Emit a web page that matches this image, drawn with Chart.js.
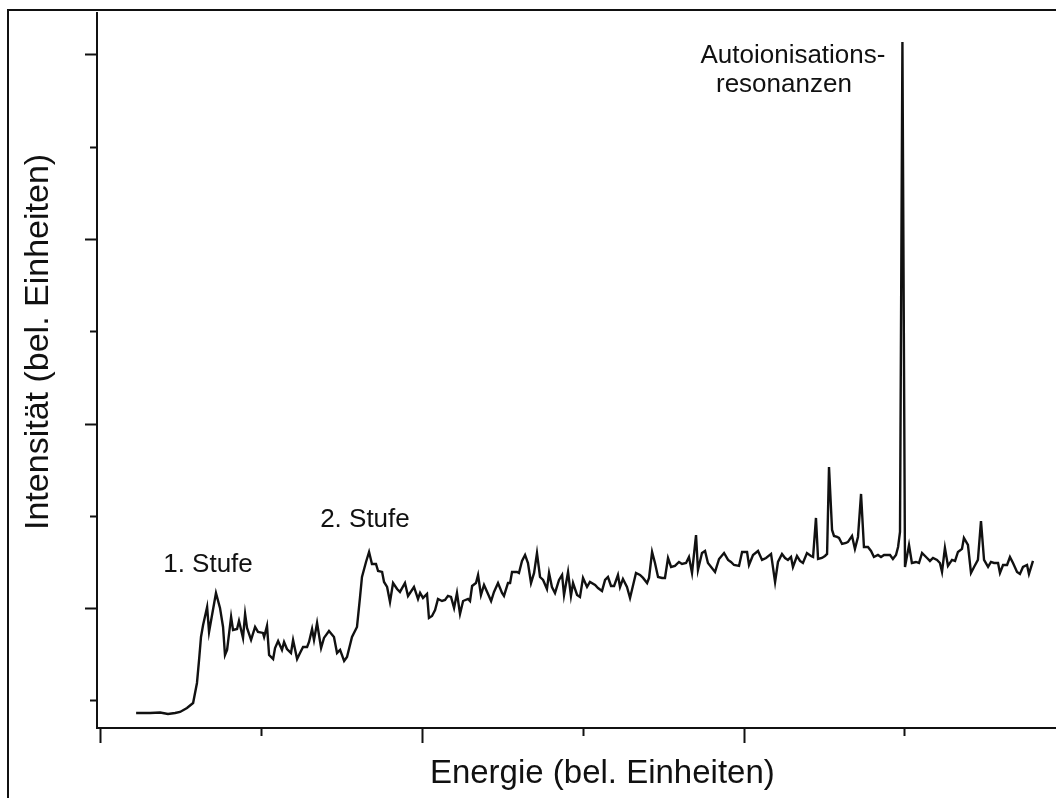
<!DOCTYPE html>
<html lang="de">
<head>
<meta charset="UTF-8">
<title>Intensität über Energie</title>
<script src="https://cdn.jsdelivr.net/npm/chart.js"></script>
<style>
  html, body { margin: 0; padding: 0; background: #fff; overflow: hidden; }
  #wrap { position: relative; width: 1056px; height: 798px; }
  #rahmen { position: absolute; left: 7px; top: 9px; width: 1100px; height: 900px;
            border-left: 2px solid #111; border-top: 2px solid #111; pointer-events: none; }
</style>
</head>
<body>
<div id="wrap">
  <canvas id="spektrum" width="1056" height="798"></canvas>
  <div id="rahmen"></div>
</div>
<script>
// Energie (bel. Einheiten), Messpunkte des Spektrums
const energie = [
  2.24, 3.11, 3.73, 4.22, 4.66, 4.97, 5.40, 5.78, 6.02, 6.15, 6.27, 6.40, 6.65, 6.77, 7.20, 7.45,
  7.64, 7.76, 7.89, 8.14, 8.26, 8.51, 8.63, 8.88, 9.01, 9.13, 9.38, 9.63, 9.81, 10.12, 10.19, 10.37,
  10.50, 10.75, 10.87, 11.06, 11.30, 11.43, 11.61, 11.86, 11.99, 12.24, 12.42, 12.61, 12.86, 12.98,
  13.17, 13.29, 13.48, 13.73, 13.91, 14.22, 14.53, 14.72, 14.91, 15.16, 15.34, 15.65, 15.96, 16.15,
  16.27, 16.52, 16.71, 16.89, 17.14, 17.27, 17.52, 17.64, 17.83, 18.01, 18.20, 18.45, 18.63, 18.94,
  19.13, 19.50, 19.75, 19.88, 20.06, 20.31, 20.43, 20.62, 20.81, 20.99, 21.24, 21.43, 21.61, 21.80,
  21.99, 22.17, 22.36, 22.55, 22.86, 22.98, 23.11, 23.35, 23.48, 23.66, 23.85, 24.10, 24.29, 24.47,
  24.72, 24.97, 25.09, 25.34, 25.47, 25.59, 25.90, 26.02, 26.21, 26.40, 26.58, 26.77, 26.96, 27.14,
  27.33, 27.52, 27.76, 27.89, 28.07, 28.26, 28.51, 28.70, 28.82, 29.07, 29.25, 29.38, 29.63, 29.81,
  30.00, 30.25, 30.43, 30.75,
  30.93, 31.18, 31.37, 31.55, 31.74, 31.93, 32.17, 32.30, 32.48, 32.73, 32.92, 33.29, 33.54, 33.73,
  33.98, 34.10, 34.29, 34.47, 34.66, 34.91, 35.09, 35.28, 35.47, 35.71, 35.96, 36.15, 36.40, 36.58,
  36.77, 37.02, 37.14, 37.39, 37.58, 37.76, 38.20, 38.45, 38.76, 39.01, 39.19, 39.38, 39.69, 39.88,
  40.19, 40.31, 40.56, 40.87, 41.12, 41.37, 41.68, 41.93, 42.11, 42.36, 42.55, 42.73, 42.92, 43.04,
  43.29, 43.48, 43.66, 43.91, 44.16, 44.29, 44.47,
  44.60, 44.84, 45.03, 45.16, 45.28, 45.47, 45.59, 45.78, 45.90, 46.09, 46.34, 46.46, 46.71, 46.89,
  47.08, 47.27, 47.45, 47.70, 47.89, 48.07, 48.32, 48.51, 48.70, 49.07, 49.25, 49.44, 49.57, 49.69,
  49.84, 50.00, 50.25, 50.43, 50.68, 50.87, 51.06, 51.37, 51.55, 51.74, 51.99, 52.17, 52.30, 52.48,
  52.67, 52.92, 53.11, 53.29, 53.54, 53.66, 53.91, 54.10, 54.29, 54.53, 54.72, 54.91, 55.16, 55.34,
  55.53, 55.78, 55.90, 56.09, 56.34, 56.52, 56.71, 56.96, 57.14, 57.33, 57.58, 57.70, 57.95
];

// Intensität (bel. Einheiten)
const intensitaet = [
  -1.30, -1.30, -1.25, -1.41, -1.30, -1.19, -0.76, -0.22, 1.95, 4.44, 6.93, 8.23, 10.18, 7.48, 11.70, 10.08,
  8.02, 4.98, 5.53, 9.10, 7.69, 7.80, 8.67, 6.83, 9.43, 7.91, 6.61, 8.02, 7.48, 7.37, 6.93, 8.13,
  4.98, 4.55, 5.74, 6.50, 5.53, 6.39, 5.63, 5.20, 6.61, 4.55, 5.20, 5.85, 5.85, 6.39,
  7.80, 6.61, 8.45, 5.74, 6.83, 7.58, 6.93, 5.20, 5.53, 4.33, 4.77, 6.93, 8.02, 11.27,
  13.43, 15.06, 16.14, 14.84, 14.84, 14.08, 13.98, 12.89, 12.35, 10.73, 12.78, 12.13, 11.81, 12.78,
  11.38, 12.35, 11.05, 11.70, 11.16, 11.59, 8.99, 9.21, 9.86, 11.05, 10.83, 10.94, 11.38, 11.27,
  10.08, 11.70, 9.43, 10.83, 11.05, 10.83, 12.46, 12.78, 13.65, 11.48, 12.57, 11.59, 10.83, 11.81,
  12.78, 11.70, 11.38, 12.78, 12.78, 13.98, 13.98, 13.87, 15.17, 15.82, 14.95, 12.78, 13.87, 16.03,
  13.43, 13.11, 12.13, 13.87, 12.35, 11.70, 13.11, 13.65, 11.48, 13.98, 11.38, 12.78, 11.48, 11.27,
  13.33, 12.35, 12.89, 12.57,
  12.24, 11.92, 13.11, 13.43, 12.46, 12.46, 13.65, 12.35, 13.22, 12.35, 11.16, 13.87, 13.65, 13.33,
  12.78, 13.33, 16.14, 14.95, 13.43, 13.33, 13.33, 15.49, 14.52, 14.63, 15.06, 14.84, 14.95, 15.60,
  13.87, 17.98, 14.19, 16.03, 16.25, 14.95, 13.98, 15.38, 16.03, 15.28, 15.06, 14.73, 14.63, 16.14,
  16.14, 14.73, 15.82, 16.25, 15.28, 15.49, 15.93, 12.89, 15.06, 15.93, 15.49, 15.28, 15.60, 14.52,
  15.71, 15.17, 14.95, 16.03, 15.71, 15.60, 19.83,
  15.38, 15.49, 15.71, 15.93, 25.35, 18.53, 17.88, 17.77, 17.66, 17.01, 17.12, 17.23, 17.88, 16.47,
  17.77, 22.43, 16.68, 16.68, 16.25, 15.60, 15.82, 15.60, 15.82, 15.82, 15.38, 15.82, 16.68, 18.31,
  71.40, 14.52, 16.90, 14.95, 15.06, 14.95, 16.03, 15.49, 15.17, 15.49, 15.28, 14.95, 13.98, 16.58,
  14.63, 15.28, 15.17, 16.14, 16.47, 17.66, 16.90, 13.87, 14.52, 15.28, 19.50, 15.28, 14.52, 15.06,
  14.95, 14.95, 13.87, 14.73, 14.73, 15.60, 14.95, 13.98, 13.76, 14.52, 14.73, 13.76, 15.17
];

// Beschriftungen im Diagramm (Anker in Dateneinheiten)
const beschriftungen = [
  { text: '1. Stufe', x: 3.92, y: 13.98, align: 'left' },
  { text: '2. Stufe', x: 13.67, y: 18.85, align: 'left' },
  { text: 'Autoionisations-', x: 43.04, y: 69.12, align: 'center' },
  { text: 'resonanzen', x: 42.48, y: 65.98, align: 'center' }
];

const titelX = 'Energie (bel. Einheiten)';
const titelY = 'Intensität (bel. Einheiten)';

const ink = '#111';
const schrift = "'Liberation Sans', Arial, Helvetica, sans-serif";

// lange Striche bei geraden Zehnern (x) bzw. ungeraden Zehnern (y)
function istHauptX(c) { return c.tick && Math.round(c.tick.value) % 20 === 0; }
function istHauptY(c) { return c.tick && Math.abs(Math.round(c.tick.value)) % 20 === 10; }

const textPlugin = {
  id: 'beschriftung',
  afterDraw(chart) {
    const { ctx, scales: { x, y } } = chart;
    ctx.save();
    ctx.fillStyle = ink;
    ctx.textBaseline = 'alphabetic';

    ctx.font = '26px ' + schrift;
    beschriftungen.forEach(b => {
      ctx.textAlign = b.align;
      ctx.fillText(b.text, x.getPixelForValue(b.x), y.getPixelForValue(b.y));
    });

    ctx.font = '33px ' + schrift;
    ctx.textAlign = 'center';
    ctx.fillText(titelX, x.getPixelForValue(31.2), x.bottom + 40);

    ctx.font = '34px ' + schrift;
    ctx.translate(y.left - 37, y.getPixelForValue(38.9));
    ctx.rotate(-Math.PI / 2);
    ctx.fillText(titelY, 0, 0);
    ctx.restore();
  }
};

const ctx = document.getElementById('spektrum').getContext('2d');
new Chart(ctx, {
  type: 'line',
  data: {
    datasets: [{
      data: energie.map((e, i) => ({ x: e, y: intensitaet[i] })),
      borderColor: ink,
      borderWidth: 2.4,
      pointRadius: 0,
      tension: 0,
      fill: false
    }]
  },
  options: {
    responsive: false,
    animation: false,
    layout: { padding: { left: 85, top: 13, right: 0, bottom: 55 } },
    plugins: { legend: { display: false }, tooltip: { enabled: false } },
    scales: {
      x: {
        type: 'linear',
        min: -0.19,
        max: 59.38,
        border: { color: ink, width: 2 },
        grid: {
          drawOnChartArea: false,
          tickLength: 15,
          tickWidth: 2,
          tickColor: ink,
          tickBorderDash: c => istHauptX(c) ? [] : [7, 100]
        },
        ticks: { display: false, stepSize: 10, includeBounds: false }
      },
      y: {
        type: 'linear',
        min: -2.93,
        max: 74.54,
        border: { color: ink, width: 2 },
        grid: {
          drawOnChartArea: false,
          tickLength: 12,
          tickWidth: 2,
          tickColor: ink,
          tickBorderDash: c => istHauptY(c) ? [] : [0, 5, 7, 100]
        },
        ticks: { display: false, stepSize: 10, includeBounds: false }
      }
    }
  },
  plugins: [textPlugin]
});
</script>
</body>
</html>
